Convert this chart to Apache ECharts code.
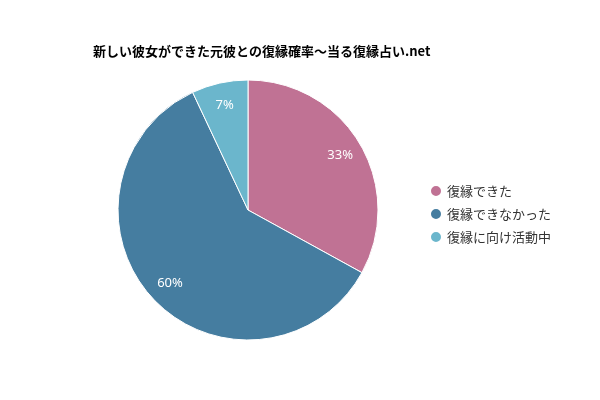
<!DOCTYPE html>
<html><head><meta charset="utf-8">
<script src="https://cdn.jsdelivr.net/npm/echarts@6/dist/echarts.min.js"></script>
<style>body{margin:0}#main{width:600px;height:400px}</style>
</head><body><div id="main"></div>
<script>
var categories = ['復縁できた', '復縁できなかった', '復縁に向け活動中'];
var values = [33, 60, 7];
var colors = ['#c07294', '#457da0', '#6bb6cc'];

var data = categories.map(function (c, i) { return { name: c, value: values[i] }; });
var chart = echarts.init(document.getElementById('main'));
chart.setOption({
  animation: false,
  color: colors,
  title: {
    text: '新しい彼女ができた元彼との復縁確率～当る復縁占い.net',
    left: 88, top: 40,
    textStyle: { fontSize: 13, fontWeight: 'bold', color: '#000', fontFamily: 'Noto Sans CJK JP' }
  },
  legend: {
    orient: 'vertical', left: 424, top: 179, icon: 'circle',
    itemWidth: 12, itemHeight: 12, itemGap: 9,
    textStyle: { fontSize: 13, color: '#333', fontFamily: 'Noto Sans CJK JP' },
    data: categories
  },
  series: [{
    type: 'pie', center: [248, 210], radius: [0, 130],
    startAngle: 90, label: { show: false }, labelLine: { show: false },
    itemStyle: { borderColor: '#fff', borderWidth: 1 },
    emphasis: { disabled: true },
    data: data
  }, {
    type: 'pie', center: [248, 210], radius: [78, 130],
    startAngle: 90, silent: true, legendHoverLink: false,
    itemStyle: { color: 'transparent' },
    label: { show: true, position: 'inside', formatter: '{c}%', color: '#fff', fontSize: 13, fontFamily: 'Noto Sans' },
    data: data
  }]
});
</script></body></html>
